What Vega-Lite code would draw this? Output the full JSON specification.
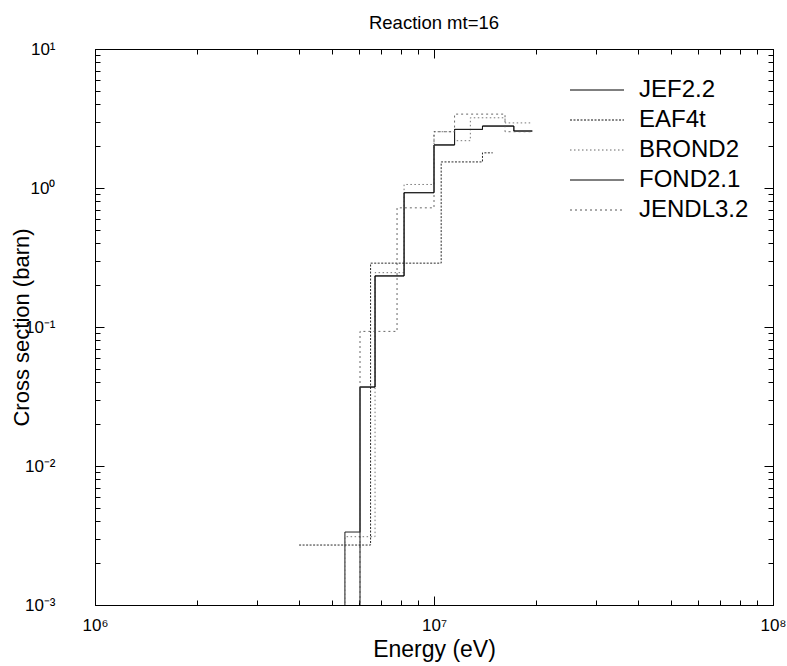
{
  "$schema": "https://vega.github.io/schema/vega-lite/v6.json",
  "width": 678,
  "height": 556,
  "autosize": "none",
  "padding": {"left": 95, "top": 49, "right": 14, "bottom": 61},
  "title": {"text": "Reaction mt=16", "fontSize": 18.5, "font": "Liberation Sans", "fontWeight": "normal", "color": "#000", "offset": 8, "anchor": "middle"},
  "config": {
    "font": "Liberation Sans",
    "view": {"stroke": "#000", "strokeWidth": 1},
    "axis": {"grid": false, "domainColor": "#000", "tickColor": "#000", "labelColor": "#000", "titleColor": "#000", "titleFontWeight": "normal"}
  },
  "data": {"values": [
    {"lib": "JEF2.2", "i": 0, "E": 5460000, "xs": 0.00001},
    {"lib": "JEF2.2", "i": 1, "E": 5460000, "xs": 0.00335},
    {"lib": "JEF2.2", "i": 2, "E": 6050000, "xs": 0.037},
    {"lib": "JEF2.2", "i": 3, "E": 6700000, "xs": 0.233},
    {"lib": "JEF2.2", "i": 4, "E": 8160000, "xs": 0.925},
    {"lib": "JEF2.2", "i": 5, "E": 10000000, "xs": 2.04},
    {"lib": "JEF2.2", "i": 6, "E": 11500000, "xs": 2.64},
    {"lib": "JEF2.2", "i": 7, "E": 13900000, "xs": 2.79},
    {"lib": "JEF2.2", "i": 8, "E": 17200000, "xs": 2.57},
    {"lib": "JEF2.2", "i": 9, "E": 19500000, "xs": 2.57},
    {"lib": "EAF4t", "i": 0, "E": 4000000, "xs": 0.0027},
    {"lib": "EAF4t", "i": 1, "E": 6500000, "xs": 0.288},
    {"lib": "EAF4t", "i": 2, "E": 10500000, "xs": 1.54},
    {"lib": "EAF4t", "i": 3, "E": 13900000, "xs": 1.79},
    {"lib": "EAF4t", "i": 4, "E": 14900000, "xs": 1.79},
    {"lib": "BROND2", "i": 0, "E": 5460000, "xs": 0.00001},
    {"lib": "BROND2", "i": 1, "E": 5460000, "xs": 0.0031},
    {"lib": "BROND2", "i": 2, "E": 6700000, "xs": 0.246},
    {"lib": "BROND2", "i": 3, "E": 8160000, "xs": 1.06},
    {"lib": "BROND2", "i": 4, "E": 10000000, "xs": 2.54},
    {"lib": "BROND2", "i": 5, "E": 11500000, "xs": 2.19},
    {"lib": "BROND2", "i": 6, "E": 12800000, "xs": 3.2},
    {"lib": "BROND2", "i": 7, "E": 16200000, "xs": 2.94},
    {"lib": "BROND2", "i": 8, "E": 19500000, "xs": 2.94},
    {"lib": "FOND2.1", "i": 0, "E": 6050000, "xs": 0.00001},
    {"lib": "FOND2.1", "i": 1, "E": 6050000, "xs": 0.037},
    {"lib": "FOND2.1", "i": 2, "E": 6700000, "xs": 0.233},
    {"lib": "FOND2.1", "i": 3, "E": 8160000, "xs": 0.925},
    {"lib": "FOND2.1", "i": 4, "E": 10000000, "xs": 2.04},
    {"lib": "FOND2.1", "i": 5, "E": 11500000, "xs": 2.64},
    {"lib": "FOND2.1", "i": 6, "E": 13900000, "xs": 2.79},
    {"lib": "FOND2.1", "i": 7, "E": 17200000, "xs": 2.57},
    {"lib": "FOND2.1", "i": 8, "E": 19500000, "xs": 2.57},
    {"lib": "JENDL3.2", "i": 0, "E": 6050000, "xs": 0.00001},
    {"lib": "JENDL3.2", "i": 1, "E": 6050000, "xs": 0.093},
    {"lib": "JENDL3.2", "i": 2, "E": 7780000, "xs": 0.72},
    {"lib": "JENDL3.2", "i": 3, "E": 10000000, "xs": 2.54},
    {"lib": "JENDL3.2", "i": 4, "E": 11500000, "xs": 3.4},
    {"lib": "JENDL3.2", "i": 5, "E": 16200000, "xs": 2.54},
    {"lib": "JENDL3.2", "i": 6, "E": 19500000, "xs": 2.54}
  ]},
  "layer": [
    {
      "mark": {"type": "line", "interpolate": "step-after", "clip": true, "strokeWidth": 0.9},
      "encoding": {
        "x": {"field": "E", "type": "quantitative",
          "scale": {"type": "log", "domain": [1000000, 100000000], "nice": false},
          "axis": {
            "orient": "bottom",
            "values": [1000000, 2000000, 3000000, 4000000, 5000000, 6000000, 7000000, 8000000, 9000000, 10000000, 20000000, 30000000, 40000000, 50000000, 60000000, 70000000, 80000000, 90000000, 100000000],
            "labelExpr": "abs(log(datum.value)/LN10 - round(log(datum.value)/LN10)) < 0.001 ? '10' + ['⁰','¹','²','³','⁴','⁵','⁶','⁷','⁸','⁹'][round(log(datum.value)/LN10)] : ''",
            "tickSize": {"condition": {"test": "abs(log(datum.value)/LN10 - round(log(datum.value)/LN10)) < 0.001", "value": -9}, "value": -5},
            "labelPadding": 21,
            "labelFontSize": 17,
            "labelFlush": false,
            "title": "Energy (eV)",
            "titleFontSize": 23,
            "titlePadding": 5
          }},
        "y": {"field": "xs", "type": "quantitative",
          "scale": {"type": "log", "domain": [0.001, 10], "nice": false},
          "axis": {
            "orient": "left",
            "values": [0.001, 0.002, 0.003, 0.004, 0.005, 0.006, 0.007, 0.008, 0.009, 0.01, 0.02, 0.03, 0.04, 0.05, 0.06, 0.07, 0.08, 0.09, 0.1, 0.2, 0.3, 0.4, 0.5, 0.6, 0.7, 0.8, 0.9, 1, 2, 3, 4, 5, 6, 7, 8, 9, 10],
            "labelExpr": "abs(log(datum.value)/LN10 - round(log(datum.value)/LN10)) < 0.001 ? '10' + (round(log(datum.value)/LN10) < 0 ? '⁻' : '') + ['⁰','¹','²','³','⁴','⁵','⁶','⁷','⁸','⁹'][abs(round(log(datum.value)/LN10))] : ''",
            "tickSize": {"condition": {"test": "abs(log(datum.value)/LN10 - round(log(datum.value)/LN10)) < 0.001", "value": -9}, "value": -5},
            "labelPadding": 49,
            "labelFontSize": 17,
            "labelFlush": false,
            "title": "Cross section (barn)",
            "titleFontSize": 22,
            "titlePadding": -9
          }},
        "color": {"field": "lib", "type": "nominal",
          "scale": {"domain": ["JEF2.2", "EAF4t", "BROND2", "FOND2.1", "JENDL3.2"], "range": ["#000000", "#111111", "#666666", "#000000", "#555555"]},
          "legend": {"orient": "none", "legendX": 490, "legendY": 29, "title": null, "symbolType": "M-3,0H3", "symbolSize": 324, "symbolStrokeWidth": 1, "labelFontSize": 24, "labelColor": "#000", "labelOffset": 30, "rowPadding": 6}},
        "strokeDash": {"field": "lib", "type": "nominal",
          "scale": {"domain": ["JEF2.2", "EAF4t", "BROND2", "FOND2.1", "JENDL3.2"], "range": [[1, 0], [2, 1.5], [1.5, 2.5], [1, 0], [2, 3]]},
          "legend": {"orient": "none", "legendX": 490, "legendY": 29, "title": null, "symbolType": "M-3,0H3", "symbolSize": 324, "symbolStrokeWidth": 1, "labelFontSize": 24, "labelColor": "#000", "labelOffset": 30, "rowPadding": 6}},
        "order": {"field": "i", "type": "quantitative"}
      }
    },
    {
      "mark": {"type": "line", "opacity": 0},
      "encoding": {
        "x": {"field": "E", "type": "quantitative",
          "axis": {
            "orient": "top",
            "values": [1000000, 2000000, 3000000, 4000000, 5000000, 6000000, 7000000, 8000000, 9000000, 10000000, 20000000, 30000000, 40000000, 50000000, 60000000, 70000000, 80000000, 90000000, 100000000],
            "labels": false,
            "tickSize": {"condition": {"test": "abs(log(datum.value)/LN10 - round(log(datum.value)/LN10)) < 0.001", "value": -9}, "value": -5},
            "title": null
          }},
        "y": {"field": "xs", "type": "quantitative",
          "axis": {
            "orient": "right",
            "values": [0.001, 0.002, 0.003, 0.004, 0.005, 0.006, 0.007, 0.008, 0.009, 0.01, 0.02, 0.03, 0.04, 0.05, 0.06, 0.07, 0.08, 0.09, 0.1, 0.2, 0.3, 0.4, 0.5, 0.6, 0.7, 0.8, 0.9, 1, 2, 3, 4, 5, 6, 7, 8, 9, 10],
            "labels": false,
            "tickSize": {"condition": {"test": "abs(log(datum.value)/LN10 - round(log(datum.value)/LN10)) < 0.001", "value": -9}, "value": -5},
            "title": null
          }}
      }
    }
  ],
  "resolve": {"axis": {"x": "independent", "y": "independent"}}
}
